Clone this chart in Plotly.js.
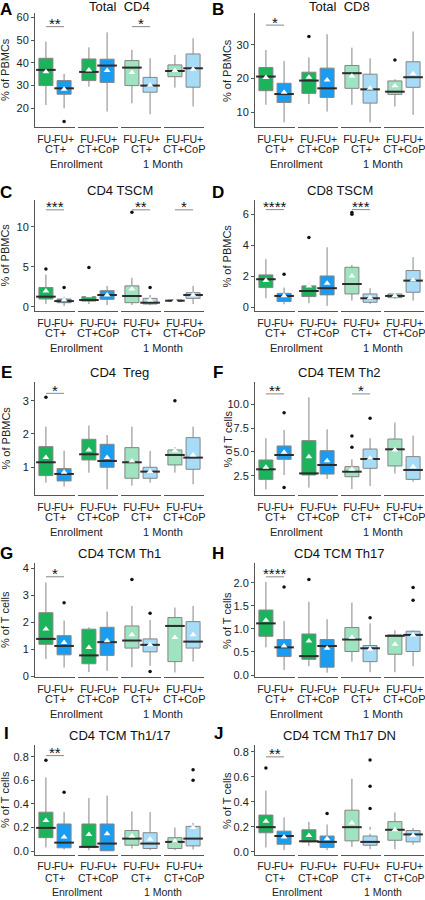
<!DOCTYPE html>
<html><head><meta charset="utf-8">
<script src="https://cdn.plot.ly/plotly-3.0.1.min.js"></script>
<style>html,body{margin:0;padding:0;background:#fff}</style>
</head><body><div id="chart" style="width:425px;height:900px"></div>
<script>
// ---------- data ----------
const timepoints = ['Enrollment', '1 Month'];
const treatments = ['CT+', 'CT+CoP'];
const fuGroups = ['FU-', 'FU+'];
const panelLetters = ['A','B','C','D','E','F','G','H','I','J'];
const panelTitles = ['Total\u00a0 CD4','Total\u00a0 CD8','CD4 TSCM','CD8 TSCM','CD4\u00a0 Treg','CD4 TEM Th2','CD4 TCM Th1','CD4 TCM Th17','CD4 TCM Th1/17','CD4 TCM Th17 DN'];
const yTitles = ['% of PBMCs','% of PBMCs','% of PBMCs','% of PBMCs','% of PBMCs','% of T cells','% of T cells','% of T cells','% of T cells','% of T cells'];

// box order: Enr CT+ FU-, Enr CT+ FU+, Enr CT+CoP FU-, Enr CT+CoP FU+, 1M CT+ FU-, 1M CT+ FU+, 1M CT+CoP FU-, 1M CT+CoP FU+
const A_low  = [21.5, 20.0, 29.5, 18.6, 22.2, 17.4, 29.1, 20.8];
const A_q1   = [30.0, 26.2, 32.2, 31.4, 30.0, 27.1, 33.9, 29.3];
const A_med  = [36.9, 28.8, 36.0, 38.8, 37.9, 30.0, 36.4, 37.6];
const A_q3   = [42.0, 32.2, 41.7, 41.6, 41.0, 33.6, 39.1, 43.9];
const A_high = [49.3, 35.1, 46.8, 53.4, 45.7, 42.0, 43.5, 50.8];
const A_mean = [36.1, 28.4, 36.9, 36.6, 35.7, 30.1, 36.6, 37.2];
const A_out  = [[], [14.2], [], [], [], [], [], []];
const A_sig  = [[0, 55.9, '**'], [2, 55.9, '*']];
const A_ticks = ['20','30','40','50','60'];

const B_low  = [12.2, 7.0, 12.4, 10.2, 12.2, 7.0, 11.7, 9.2];
const B_q1   = [16.4, 12.9, 15.6, 14.4, 17.1, 12.7, 15.3, 17.4];
const B_med  = [20.6, 15.4, 19.4, 17.1, 21.6, 16.8, 16.1, 20.4];
const B_q3   = [23.3, 18.6, 21.9, 23.1, 23.9, 21.3, 19.3, 25.0];
const B_high = [28.5, 25.2, 26.3, 33.2, 29.2, 26.0, 19.8, 34.0];
const B_mean = [20.3, 15.9, 20.4, 19.6, 20.8, 17.1, 17.9, 21.4];
const B_out  = [[], [], [32.5], [], [], [], [25.5], []];
const B_sig  = [[0, 35.9, '*']];
const B_ticks = ['10','20','30'];

const C_low  = [0.33, 0.08, 0.33, 0.20, 0.20, 0.20, 0.60, 0.33];
const C_q1   = [0.96, 0.50, 0.70, 0.92, 0.50, 0.33, 0.67, 1.04];
const C_med  = [1.25, 0.70, 0.83, 1.46, 1.33, 0.50, 0.75, 1.46];
const C_q3   = [2.40, 0.96, 1.25, 2.00, 2.60, 1.04, 0.83, 1.75];
const C_high = [4.00, 1.25, 1.25, 2.60, 3.60, 1.46, 0.90, 2.60];
const C_mean = [1.96, 0.83, 1.37, 1.46, 2.20, 0.83, 0.75, 1.46];
const C_out  = [[4.7], [2.4], [4.9], [], [11.8], [2.4], [], []];
const C_sig  = [[0, 12.1, '***'], [2, 12.1, '**'], [3, 12.1, '*']];
const C_ticks = ['0','5','10'];

const D_low  = [0.58, 0.19, 0.26, 0.09, 0.43, 0.22, 0.54, 0.43];
const D_q1   = [1.27, 0.37, 0.69, 0.80, 0.86, 0.32, 0.62, 0.97];
const D_med  = [1.81, 0.73, 1.05, 1.23, 1.50, 0.58, 0.73, 1.72];
const D_q3   = [2.09, 0.90, 1.38, 2.02, 2.58, 0.86, 0.86, 2.37];
const D_high = [3.10, 1.27, 1.55, 3.87, 2.73, 1.23, 0.90, 3.23];
const D_mean = [1.72, 0.75, 1.38, 1.55, 2.02, 0.62, 0.75, 1.76];
const D_out  = [[], [2.13], [4.5], [], [6.0, 6.12], [], [], []];
const D_sig  = [[0, 6.3, '****'], [2, 6.3, '***']];
const D_ticks = ['0','2','4','6'];

const E_low  = [0.54, 0.42, 0.84, 0.34, 0.45, 0.54, 0.84, 0.49];
const E_q1   = [0.75, 0.59, 1.22, 1.00, 0.67, 0.67, 1.07, 0.94];
const E_med  = [1.15, 0.80, 1.39, 1.19, 1.15, 0.87, 1.37, 1.29];
const E_q3   = [1.62, 0.96, 1.84, 1.69, 1.59, 1.00, 1.52, 1.89];
const E_high = [2.22, 1.50, 2.25, 1.97, 2.22, 1.49, 1.60, 2.22];
const E_mean = [1.29, 0.85, 1.52, 1.29, 1.19, 0.87, 1.50, 1.37];
const E_out  = [[3.1], [], [], [], [], [], [3.0], []];
const E_sig  = [[0, 3.22, '*']];
const E_ticks = ['1','2','3'];

const F_low  = [1.06, 2.57, 1.24, 2.15, 1.10, 1.41, 2.74, 1.87];
const F_q1   = [2.11, 4.22, 2.57, 2.67, 2.39, 3.27, 3.52, 2.11];
const F_med  = [3.17, 4.67, 2.74, 3.62, 2.92, 4.25, 5.27, 3.10];
const F_q3   = [4.15, 5.62, 6.18, 5.13, 3.45, 5.30, 6.35, 4.50];
const F_high = [6.43, 7.30, 10.74, 7.37, 4.22, 6.43, 8.07, 6.71];
const F_mean = [3.38, 4.95, 4.50, 4.08, 3.17, 4.32, 5.20, 3.45];
const F_out  = [[], [9.12, 1.27], [], [], [6.67, 5.48], [8.53], [], []];
const F_sig  = [[0, 11.09, '**'], [2, 11.09, '*']];
const F_ticks = ['2.5','5.0','7.5','10.0'];

const G_low  = [0.65, 0.33, 0.16, 0.21, 0.34, 0.39, 0.15, 0.55];
const G_q1   = [1.19, 0.80, 0.47, 0.78, 1.05, 0.91, 0.55, 1.05];
const G_med  = [1.39, 1.13, 0.78, 1.27, 1.33, 1.17, 1.87, 1.29];
const G_q3   = [2.36, 1.51, 1.75, 1.82, 1.87, 1.39, 2.18, 2.03];
const G_high = [3.48, 2.07, 1.82, 2.40, 2.61, 2.09, 2.55, 2.61];
const G_mean = [1.76, 1.26, 1.07, 1.32, 1.54, 1.17, 1.44, 1.54];
const G_out  = [[], [2.73], [], [], [3.59], [2.34, 0.18], [], []];
const G_sig  = [[0, 3.69, '*']];
const G_ticks = ['0','1','2','3','4'];

const H_low  = [0.60, 0.11, 0.19, 0.05, 0.29, 0.06, 0.06, 0.19];
const H_q1   = [0.84, 0.40, 0.34, 0.17, 0.51, 0.29, 0.45, 0.51];
const H_med  = [1.12, 0.60, 0.41, 0.63, 0.77, 0.58, 0.85, 0.87];
const H_q3   = [1.41, 0.77, 0.89, 0.77, 1.03, 0.64, 0.87, 0.95];
const H_high = [2.02, 1.17, 1.59, 1.21, 1.57, 1.12, 0.97, 0.97];
const H_mean = [1.19, 0.63, 0.74, 0.58, 0.82, 0.56, 0.67, 0.87];
const H_out  = [[], [1.91], [2.07], [], [], [1.24], [], [1.90, 1.62]];
const H_sig  = [[0, 2.13, '****']];
const H_ticks = ['0.0','0.5','1.0','1.5','2.0'];

const I_low  = [0.030, 0.014, 0.008, 0.000, 0.022, 0.008, 0.008, 0.014];
const I_q1   = [0.114, 0.028, 0.030, 0.003, 0.050, 0.022, 0.022, 0.044];
const I_med  = [0.197, 0.072, 0.036, 0.064, 0.106, 0.064, 0.078, 0.106];
const I_q3   = [0.330, 0.230, 0.230, 0.230, 0.175, 0.156, 0.114, 0.210];
const I_high = [0.625, 0.330, 0.450, 0.470, 0.336, 0.330, 0.200, 0.240];
const I_mean = [0.260, 0.120, 0.140, 0.147, 0.128, 0.100, 0.083, 0.200];
const I_out  = [[0.77], [0.50], [], [], [], [], [], [0.69, 0.60]];
const I_sig  = [[0, 0.81, '**']];
const I_ticks = ['0.0','0.2','0.4','0.6','0.8'];

const J_low  = [0.034, 0.013, 0.047, 0.013, 0.039, 0.021, 0.021, 0.058];
const J_q1   = [0.152, 0.060, 0.079, 0.034, 0.087, 0.052, 0.092, 0.079];
const J_med  = [0.197, 0.126, 0.084, 0.079, 0.197, 0.079, 0.176, 0.139];
const J_q3   = [0.294, 0.165, 0.176, 0.126, 0.333, 0.126, 0.241, 0.170];
const J_high = [0.490, 0.276, 0.240, 0.218, 0.585, 0.200, 0.315, 0.190];
const J_mean = [0.244, 0.118, 0.131, 0.105, 0.231, 0.157, 0.176, 0.131];
const J_out  = [[0.67], [], [], [0.307], [], [0.735, 0.525, 0.346], [], []];
const J_sig  = [[0, 0.76, '**']];
const J_ticks = ['0.0','0.2','0.4','0.6','0.8'];

// ---------- assembly ----------
const panels = [
  {low:A_low,q1:A_q1,med:A_med,q3:A_q3,high:A_high,mean:A_mean,out:A_out,sig:A_sig,ticks:A_ticks},
  {low:B_low,q1:B_q1,med:B_med,q3:B_q3,high:B_high,mean:B_mean,out:B_out,sig:B_sig,ticks:B_ticks},
  {low:C_low,q1:C_q1,med:C_med,q3:C_q3,high:C_high,mean:C_mean,out:C_out,sig:C_sig,ticks:C_ticks},
  {low:D_low,q1:D_q1,med:D_med,q3:D_q3,high:D_high,mean:D_mean,out:D_out,sig:D_sig,ticks:D_ticks},
  {low:E_low,q1:E_q1,med:E_med,q3:E_q3,high:E_high,mean:E_mean,out:E_out,sig:E_sig,ticks:E_ticks},
  {low:F_low,q1:F_q1,med:F_med,q3:F_q3,high:F_high,mean:F_mean,out:F_out,sig:F_sig,ticks:F_ticks},
  {low:G_low,q1:G_q1,med:G_med,q3:G_q3,high:G_high,mean:G_mean,out:G_out,sig:G_sig,ticks:G_ticks},
  {low:H_low,q1:H_q1,med:H_med,q3:H_q3,high:H_high,mean:H_mean,out:H_out,sig:H_sig,ticks:H_ticks},
  {low:I_low,q1:I_q1,med:I_med,q3:I_q3,high:I_high,mean:I_mean,out:I_out,sig:I_sig,ticks:I_ticks},
  {low:J_low,q1:J_q1,med:J_med,q3:J_q3,high:J_high,mean:J_mean,out:J_out,sig:J_sig,ticks:J_ticks}
];

const W = 425, H = 900;
const FONT = 'Liberation Sans, Arial, sans-serif';
const colAxisX = [35, 255];
const facetW = 40, facetGap = 3;
const rowTop = [13, 200, 382, 563, 745];
const rowBot = [127, 311, 495, 677, 855];
const ctOffset = [22, 22, 22, 22, 23];
const tpOffset = [37, 37, 37, 37, 37];
const labelSize = [11, 11, 11, 11, 10.5];
const yRanges = [[11.8,61.9],[5.6,39.5],[-0.54,13.33],[-0.24,6.92],[0.168,3.56],[0.47,12.34],[-0.02,4.2],[-0.043,2.43],[-0.033,0.9],[-0.026,0.855]];
const fillColors = [['#1bb35b','#1a9cf0'],['#9fe3c0','#a6dcf8']];
const titleY = [6, 190, 373, 553, 735];
const letterY = [9, 192, 373, 553, 733];

const px = v => v / W;
const py = v => 1 - v / H;

const traces = [], annotations = [], shapes = [];
const layout = {
  width: W, height: H, margin: {l:0, r:0, t:0, b:0},
  paper_bgcolor: '#fff', plot_bgcolor: 'rgba(0,0,0,0)',
  showlegend: false, font: {family: FONT, color: '#222'},
  boxmode: 'overlay'
};

panels.forEach((P, p) => {
  const row = Math.floor(p / 2), col = p % 2;
  const yId = 'y' + (p + 1);
  const x0 = colAxisX[col];
  layout['yaxis' + (p + 1)] = {
    domain: [py(rowBot[row]), py(rowTop[row])],
    anchor: 'x' + (p * 4 + 1),
    range: yRanges[p],
    tickvals: P.ticks.map(Number), ticktext: P.ticks,
    ticks: 'outside', ticklen: 3, tickcolor: '#555',
    showline: true, linecolor: '#555', linewidth: 1,
    showgrid: false, zeroline: false,
    tickfont: {size: 11, color: '#222', family: FONT},
    fixedrange: true
  };
  for (let f = 0; f < 4; f++) {
    const n = p * 4 + f + 1;
    const xl = x0 + f * (facetW + facetGap);
    layout['xaxis' + n] = {
      domain: [px(xl), px(xl + facetW)],
      anchor: yId, type: 'category',
      categoryorder: 'array', categoryarray: fuGroups,
      range: [-0.6, 1.6],
      showline: true, linecolor: '#555', linewidth: 1,
      ticks: '', tickangle: 0, ticklabelstandoff: row === 4 ? 1 : 2, showgrid: false, zeroline: false,
      tickfont: {size: 10.5, color: '#222', family: FONT},
      fixedrange: true
    };
    const xId = 'x' + n;
    const time = Math.floor(f / 2);
    for (let g = 0; g < 2; g++) {
      const i = f * 2 + g;
      traces.push({
        type: 'box', x: [fuGroups[g]], xaxis: xId, yaxis: yId,
        q1: [P.q1[i]], median: [P.med[i]], q3: [P.q3[i]],
        lowerfence: [P.low[i]], upperfence: [P.high[i]],
        fillcolor: fillColors[time][g],
        line: {color: '#858585', width: 1},
        width: 0.77, whiskerwidth: 0, boxpoints: false, hoverinfo: 'skip'
      });
    }
    // medians
    traces.push({
      type: 'scatter', mode: 'markers', xaxis: xId, yaxis: yId,
      x: fuGroups, y: [P.med[f * 2], P.med[f * 2 + 1]],
      marker: {symbol: 'line-ew', size: 14, color: '#2b2b2b', line: {width: 2, color: '#2b2b2b'}},
      hoverinfo: 'skip'
    });
    // means
    traces.push({
      type: 'scatter', mode: 'markers', xaxis: xId, yaxis: yId,
      x: fuGroups, y: [P.mean[f * 2], P.mean[f * 2 + 1]],
      marker: {symbol: 'triangle-up', size: 6, color: '#ffffff', line: {width: 0}},
      hoverinfo: 'skip'
    });
    // outliers
    const ox = [], oy = [];
    for (let g = 0; g < 2; g++) {
      P.out[f * 2 + g].forEach(v => { ox.push(fuGroups[g]); oy.push(v); });
    }
    if (ox.length) traces.push({
      type: 'scatter', mode: 'markers', xaxis: xId, yaxis: yId,
      x: ox, y: oy, marker: {size: 3.5, color: '#111'}, hoverinfo: 'skip'
    });
    // treatment label
    annotations.push({
      xref: xId, x: 0.5, yref: 'paper', y: py(rowBot[row] + ctOffset[row]),
      text: treatments[f % 2], showarrow: false, xanchor: 'center', yanchor: 'middle',
      font: {size: labelSize[row], color: '#222', family: FONT}
    });
  }
  // timepoint labels
  const tpY = rowBot[row] + tpOffset[row];
  [0, 1].forEach(t => {
    const c = x0 + (t * 2) * (facetW + facetGap) + (2 * facetW + facetGap) / 2;
    annotations.push({
      xref: 'paper', x: px(c), yref: 'paper', y: py(tpY),
      text: timepoints[t], showarrow: false, xanchor: 'center', yanchor: 'middle',
      font: {size: labelSize[row], color: '#222', family: FONT}
    });
  });
  // significance
  P.sig.forEach(s => {
    const xId = 'x' + (p * 4 + s[0] + 1);
    shapes.push({type: 'line', xref: xId, yref: yId, x0: 0, x1: 1, y0: s[1], y1: s[1],
      line: {color: '#888', width: 1}});
    annotations.push({xref: xId, x: 0.5, yref: yId, y: s[1], text: s[2], showarrow: false,
      xanchor: 'center', yanchor: 'middle', yshift: 3,
      font: {size: 15, color: '#111', family: FONT}});
  });
  // panel title
  const plotL = x0, plotR = x0 + 4 * facetW + 3 * facetGap;
  annotations.push({xref: 'paper', x: px((plotL + plotR) / 2), yref: 'paper', y: py(titleY[row]),
    text: panelTitles[p], showarrow: false, xanchor: 'center', yanchor: 'middle',
    font: {size: 13, color: '#111', family: FONT}});
  // letter
  annotations.push({xref: 'paper', x: px(col ? 218 : 6), yref: 'paper', y: py(letterY[row]),
    text: '<b>' + panelLetters[p] + '</b>', showarrow: false, xanchor: 'center', yanchor: 'middle',
    font: {size: 17, color: '#000', family: FONT}});
  // y title
  annotations.push({xref: 'paper', x: px(col ? 227 : 5), yref: 'paper', y: py((rowTop[row] + rowBot[row]) / 2),
    text: yTitles[p], textangle: -90, showarrow: false, xanchor: 'center', yanchor: 'middle',
    font: {size: 11, color: '#222', family: FONT}});
});

layout.annotations = annotations;
layout.shapes = shapes;
Plotly.newPlot('chart', traces, layout, {displayModeBar: false, staticPlot: true});
</script>
</body></html>
